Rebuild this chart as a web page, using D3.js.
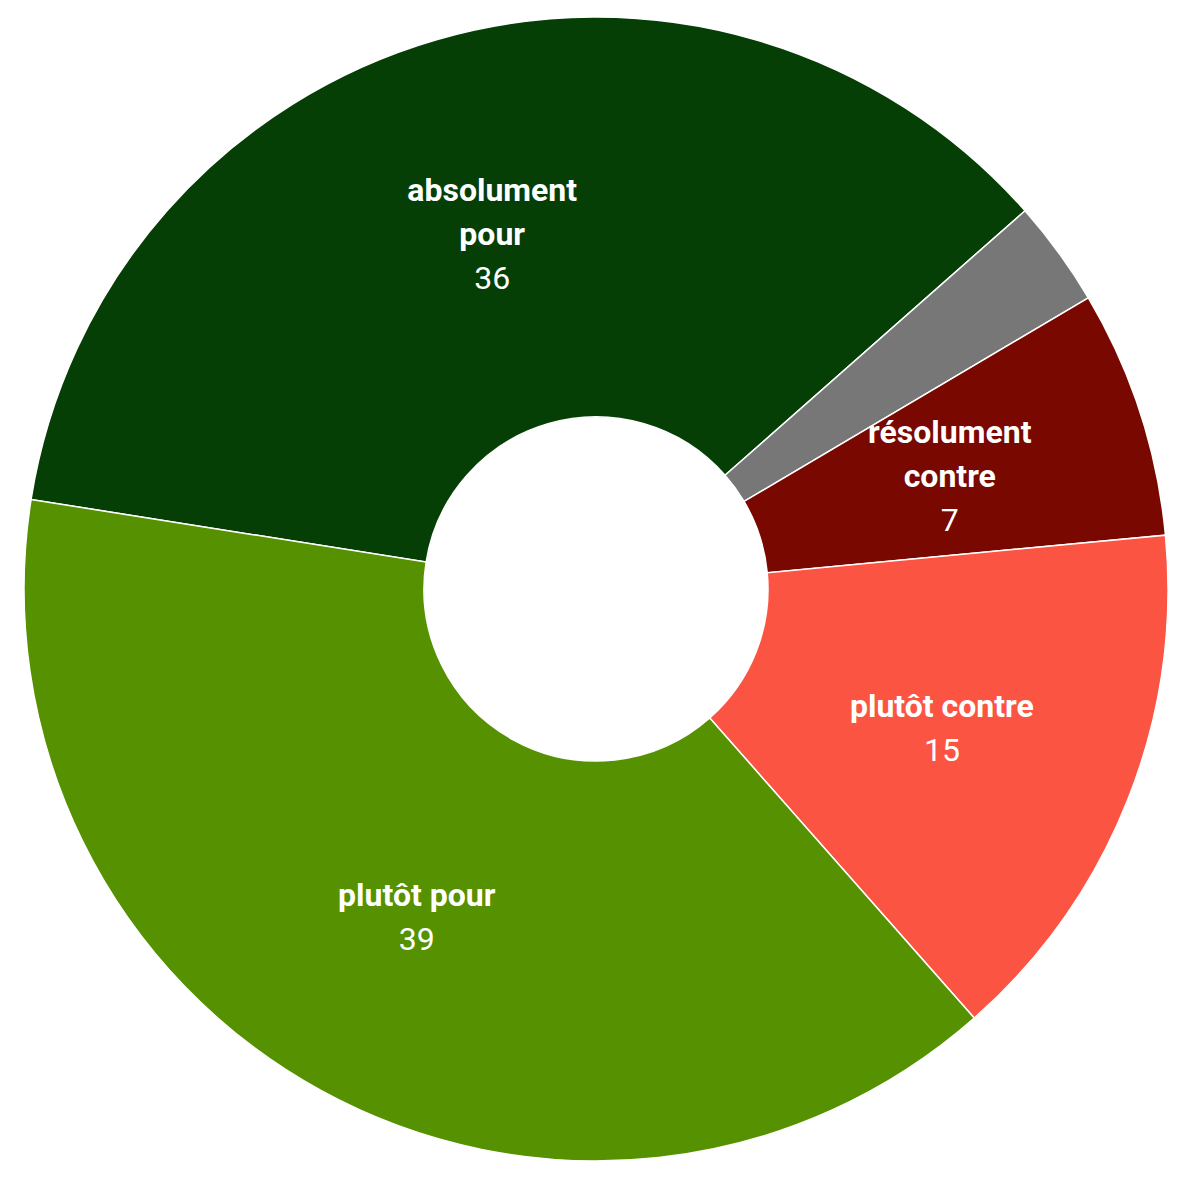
<!DOCTYPE html>
<html>
<head>
<meta charset="utf-8">
<script src="https://cdn.jsdelivr.net/npm/d3@7"></script>
<style>
  html, body { margin: 0; padding: 0; background: #ffffff; }
  svg { display: block; }
</style>
</head>
<body>
<svg id="chart" width="1200" height="1186"></svg>
<script>
// Data
const categories = ["absolument pour", "sans opinion", "résolument contre", "plutôt contre", "plutôt pour"];
const values = [36, 3, 7, 15, 39];
const colors = ["#053f05", "#777777", "#780800", "#fc5443", "#559100"];
const labelLines = [["absolument", "pour"], [], ["résolument", "contre"], ["plutôt contre"], ["plutôt pour"]];
const showLabel = [true, false, true, true, true];

const svg = d3.select("#chart");
const cx = 596, cy = 589;
const outerR = 572, innerR = 172;
const startDeg = -81;

const data = categories.map((c, i) => ({ name: c, value: values[i], color: colors[i], lines: labelLines[i], show: showLabel[i] }));

const pie = d3.pie()
  .sort(null)
  .value(d => d.value)
  .startAngle(startDeg * Math.PI / 180)
  .endAngle((startDeg + 360) * Math.PI / 180);

const arc = d3.arc().innerRadius(innerR).outerRadius(outerR);
const labelArc = d3.arc().innerRadius((innerR + outerR) / 2).outerRadius((innerR + outerR) / 2);

const g = svg.append("g").attr("transform", `translate(${cx},${cy})`);
const arcs = pie(data);

g.selectAll("path.slice")
  .data(arcs)
  .join("path")
  .attr("class", "slice")
  .attr("d", arc)
  .attr("fill", d => d.data.color)
  .attr("stroke", "#ffffff")
  .attr("stroke-width", 1.5);

const fontSize = 32;
const lineH = 44;

const labels = g.selectAll("g.label")
  .data(arcs.filter(d => d.data.show))
  .join("g")
  .attr("class", "label")
  .attr("transform", d => {
    const [x, y] = labelArc.centroid(d);
    return `translate(${x},${y + 2})`;
  });

labels.each(function(d) {
  const sel = d3.select(this);
  const lines = d.data.lines.map(t => ({ text: t, bold: true })).concat([{ text: String(d.data.value), bold: false }]);
  const n = lines.length;
  lines.forEach((ln, i) => {
    const yOff = (i - (n - 1) / 2) * lineH;
    sel.append("text")
      .attr("x", 0)
      .attr("y", yOff)
      .attr("dy", "0.35em")
      .attr("text-anchor", "middle")
      .attr("fill", "#ffffff")
      .attr("font-family", "Roboto, Arial, sans-serif")
      .attr("font-size", fontSize)
      .attr("font-weight", ln.bold ? 700 : 400)
      .text(ln.text);
  });
});
</script>
</body>
</html>
